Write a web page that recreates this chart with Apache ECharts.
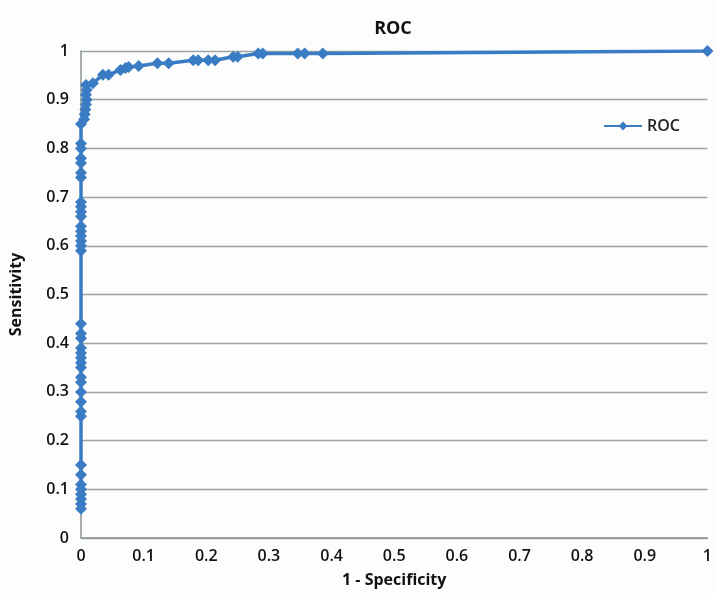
<!DOCTYPE html>
<html><head><meta charset="utf-8">
<script src="https://cdn.jsdelivr.net/npm/echarts@6/dist/echarts.min.js"></script>
<style>html,body{margin:0;padding:0;background:#fdfdfe;}#c{width:715px;height:593px;}</style>
</head><body><div id="c"></div>
<script>
const fpr = [0,0,0,0,0,0,0,0,0,0,0,0,0,0,0,0,0,0,0,0,0,0,0,0,0,0,0,0,0,0,0,0,0,0,0,0,0,0,0,
  0.005,0.006,0.007,0.008,0.009,0.008,0.009,0.008,0.019,0.035,0.044,0.063,0.071,0.076,0.092,0.122,0.14,0.179,0.187,0.203,0.214,0.243,0.25,0.283,0.29,0.346,0.357,0.386,1];
const tpr = [0.06,0.07,0.08,0.09,0.10,0.11,0.13,0.15,0.25,0.26,0.28,0.30,0.32,0.33,0.35,0.36,0.37,0.38,0.39,0.41,0.42,0.44,0.59,0.60,0.61,0.62,0.63,0.64,0.66,0.67,0.68,0.69,0.74,0.75,0.77,0.78,0.80,0.81,0.85,
  0.86,0.87,0.88,0.89,0.90,0.91,0.92,0.93,0.934,0.951,0.951,0.961,0.965,0.967,0.969,0.975,0.975,0.981,0.981,0.981,0.981,0.988,0.988,0.995,0.995,0.995,0.995,0.995,1];
const seriesName = 'ROC';
const chartTitle = 'ROC';
const xName = '1 - Specificity';
const yName = 'Sensitivity';
const pts = fpr.map((x,i)=>[x,tpr[i]]);
const F = '"Open Sans", "Liberation Sans", sans-serif';
const chart = echarts.init(document.getElementById('c'));
chart.setOption({
  backgroundColor:'#fdfdfe',
  animation:false,
  title:{text:chartTitle,left:388,top:15,textAlign:'center',textStyle:{fontFamily:F,fontWeight:'bold',fontSize:18,color:'#111'}},
  legend:{data:[seriesName],right:30,top:113,itemWidth:38,itemHeight:11,itemGap:8,textStyle:{fontFamily:F,fontSize:16,fontWeight:600,color:'#222'}},
  grid:{left:80,right:5,top:51,bottom:55},
  xAxis:{type:'value',min:0,max:1,interval:0.1,name:xName,nameLocation:'middle',nameGap:34,
    nameTextStyle:{fontFamily:F,fontWeight:'bold',fontSize:16,color:'#111'},
    axisLine:{lineStyle:{color:'#8a9494',width:1.5}},axisTick:{show:false},splitLine:{show:false},
    axisLabel:{fontFamily:F,fontSize:16,fontWeight:600,color:'#111',margin:10,formatter:v=>String(Math.round(v*10)/10)}},
  yAxis:{type:'value',min:0,max:1,interval:0.1,name:yName,nameLocation:'middle',nameGap:57,
    nameTextStyle:{fontFamily:F,fontWeight:'bold',fontSize:16,color:'#111'},
    axisLine:{show:true,lineStyle:{color:'#8a9494',width:1.5}},axisTick:{show:false},
    splitLine:{lineStyle:{color:'#9aa4a4',width:1.3}},
    axisLabel:{fontFamily:F,fontSize:16,fontWeight:600,color:'#111',margin:12,formatter:v=>String(Math.round(v*10)/10)}},
  series:[{name:seriesName,type:'line',data:pts,symbol:'diamond',symbolSize:12,
    lineStyle:{color:'#3a7cc4',width:3.5},itemStyle:{color:'#3a7cc4'}}]
});
</script></body></html>
